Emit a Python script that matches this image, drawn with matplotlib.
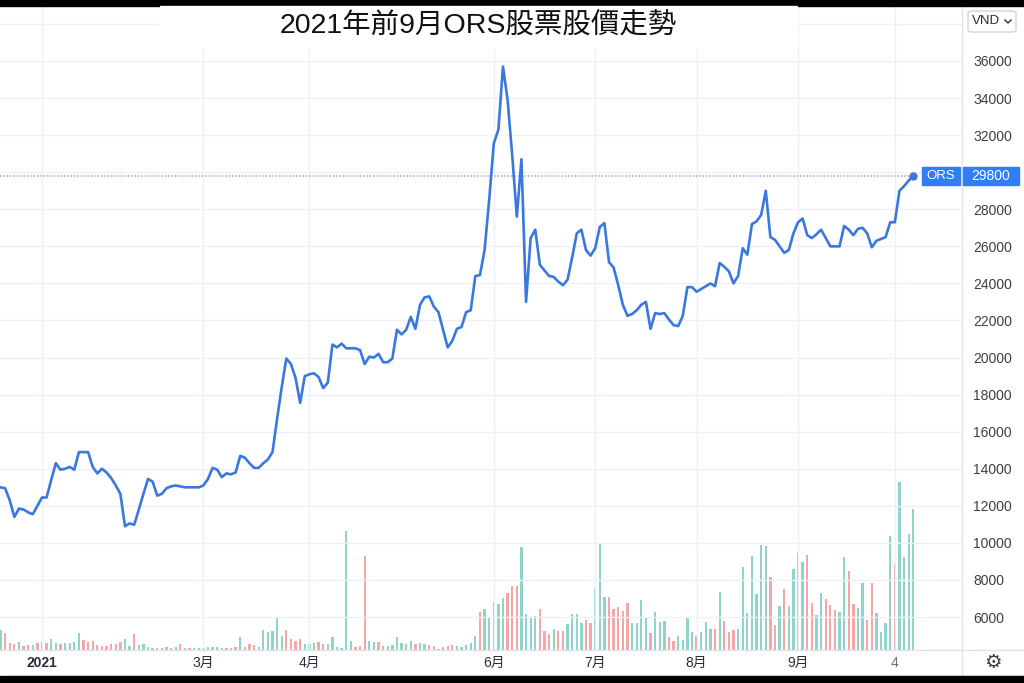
import numpy as np
import matplotlib.pyplot as plt
from matplotlib.patches import Rectangle, FancyBboxPatch
from matplotlib.lines import Line2D

# daily closes (VND), first bar = 2020-12-21, bar 0 = 2021-01-04
close = [13000, 12950, 12300, 11400, 11850, 11800, 11650, 11550, 12000,
         12450, 12450, 13400, 14300, 13950, 14000, 14100, 13950, 14900, 14900,
         14900, 14100, 13750, 14000, 13800, 13500, 13100, 12650, 10900, 11050,
         10980, 11800, 12650, 13450, 13300, 12550, 12650, 12950, 13050, 13100,
         13050, 13000, 13000, 13000, 13000, 13100, 13450, 14050, 13950, 13550,
         13750, 13700, 13800, 14700, 14600, 14300, 14050, 14050, 14300, 14500,
         14900, 16700, 18400, 19950, 19650, 18900, 17550, 19000, 19100, 19150,
         18950, 18350, 18650, 20700, 20550, 20750, 20500, 20500, 20500, 20400,
         19650, 20050, 20000, 20200, 19750, 19750, 19950, 21500, 21250, 21500,
         22200, 21550, 22850, 23250, 23300, 22750, 22450, 21500, 20550, 20900,
         21550, 21650, 22450, 22550, 24400, 24450, 25800, 28500, 31550, 32300,
         35700, 33900, 30900, 27600, 30700, 23000, 26450, 26900, 25000, 24700,
         24400, 24350, 24100, 23900, 24200, 25400, 26700, 26900, 25800, 25500,
         25900, 27050, 27250, 25150, 24850, 23900, 22850, 22250, 22350, 22550,
         22850, 23000, 21550, 22400, 22350, 22400, 22050, 21750, 21700, 22250,
         23800, 23800, 23550, 23700, 23850, 24000, 23850, 25100, 24900, 24650,
         24000, 24400, 25900, 25550, 27200, 27350, 27700, 29000, 26500, 26350,
         26000, 25650, 25800, 26700, 27300, 27500, 26600, 26450, 26650, 26900,
         26450, 26000, 26000, 26000, 27100, 26900, 26600, 26950, 27000, 26700,
         25950, 26300, 26400, 26500, 27300, 27300, 29000, 29250, 29550, 29800]

# volume (thousand shares)
volume = [400, 340, 146, 120, 154, 80, 100, 100, 134,
          166, 134, 220, 146, 120, 146, 134, 166, 346, 200,
          166, 186, 100, 80, 80, 114, 120, 166, 214, 80,
          320, 100, 120, 54, 40, 40, 46, 54, 46, 54,
          114, 46, 34, 40, 40, 46, 54, 54, 60, 46,
          40, 34, 66, 266, 54, 120, 106, 66, 400, 366,
          374, 654, 286, 406, 220, 174, 220, 120, 120, 140,
          154, 120, 120, 266, 66, 40, 2374, 186, 54, 74,
          1874, 186, 154, 154, 86, 86, 100, 266, 140, 120,
          186, 120, 140, 120, 106, 74, 20, 54, 86, 100,
          74, 54, 100, 134, 286, 764, 818, 646, 958, 922,
          1040, 1146, 1290, 1290, 2054, 714, 660, 680, 818, 388,
          320, 424, 388, 388, 528, 714, 714, 542, 610, 542,
          1236, 2124, 1062, 1062, 818, 854, 784, 944, 542, 542,
          992, 666, 334, 764, 556, 576, 264, 174, 278, 194,
          646, 368, 278, 368, 556, 424, 424, 1166, 576, 368,
          402, 416, 1666, 750, 1880, 1118, 2102, 2088, 1464, 492,
          888, 1222, 888, 1630, 1950, 1756, 1908, 944, 694, 1132,
          1028, 902, 798, 764, 1860, 1582, 922, 832, 1340, 610,
          1340, 736, 368, 542, 2276, 1722, 3352, 1860, 2324, 2818]

# 1 = up day (green volume), 0 = down day (red volume)
up = [1, 0, 0, 0, 1, 0, 0, 1, 0,
      1, 0, 1, 1, 0, 1, 1, 1, 1, 0,
      0, 0, 0, 0, 0, 0, 0, 0, 1, 1,
      0, 1, 1, 1, 1, 0, 1, 0, 0, 1,
      0, 1, 0, 1, 1, 1, 1, 0, 1, 1,
      0, 1, 0, 1, 0, 0, 0, 1, 1, 1,
      1, 1, 1, 0, 0, 0, 0, 1, 1, 1,
      0, 0, 1, 1, 1, 1, 1, 1, 0, 0,
      0, 1, 1, 0, 0, 1, 1, 1, 1, 1,
      1, 0, 1, 1, 0, 0, 1, 0, 0, 0,
      1, 1, 1, 1, 1, 0, 1, 1, 1, 1,
      1, 0, 0, 0, 1, 1, 1, 1, 0, 0,
      0, 1, 0, 0, 1, 1, 1, 1, 0, 0,
      1, 1, 1, 0, 0, 0, 0, 0, 1, 1,
      1, 1, 0, 1, 1, 1, 0, 0, 1, 1,
      1, 1, 0, 1, 1, 1, 0, 1, 0, 0,
      0, 1, 1, 1, 1, 1, 1, 1, 0, 0,
      1, 0, 1, 1, 1, 1, 0, 0, 1, 1,
      0, 0, 0, 1, 1, 0, 0, 1, 1, 0,
      0, 1, 1, 1, 1, 0, 1, 1, 1, 1]

first_bar = -9
tick_bars = [0, 35, 58, 98, 120, 142, 164, 185]
tick_labels = ['2021', '3月', '4月', '6月', '7月', '8月', '9月', '4']
price_ticks = list(range(6000, 36001, 2000))
last_price = 29800

W, H = 1024, 683
fig = plt.figure(figsize=(W / 100, H / 100), dpi=100)
fig.patch.set_facecolor('white')

x = np.arange(len(close)) + first_bar
rect = [0, (H - 650) / H, 962 / W, 645 / H]
xlim = (-42 / 4.61, 920 / 4.61)

# volume pane (underneath)
axv = fig.add_axes(rect)
axv.set_xlim(*xlim)
axv.set_ylim(0, 12900)
cols = ['#8fd3cb' if u else '#f6a6a4' for u in up]
axv.bar(x, volume, width=0.5, color=cols, linewidth=0)
axv.axis('off')

# price pane
ax = fig.add_axes(rect)
ax.patch.set_visible(False)
ax.set_xlim(*xlim)
ax.set_ylim(4223, 39021)
for s in ax.spines.values():
    s.set_visible(False)
for p in price_ticks + [38000]:
    ax.axhline(p, color='#eef0f5', lw=1, zorder=0)
for b in tick_bars:
    ax.axvline(b, color='#eef0f5', lw=1, zorder=0)

line_col = '#3a78e0'
ax.plot(x, close, color=line_col, lw=1.9, solid_joinstyle='round', zorder=3)
ax.plot([xlim[0], x[-1]], [last_price, last_price], color='#a3a3d8',
        lw=1.1, ls=(0, (1, 1.2)), zorder=2)
ax.plot(x[-1], close[-1], 'o', ms=5, color=line_col, zorder=4)

ax.yaxis.tick_right()
ax.set_yticks(price_ticks)
# the 30000 label sits under the last-price tag
ax.set_yticklabels(['' if p == 30000 else str(p) for p in price_ticks],
                   family='Liberation Sans')
ax.tick_params(axis='y', length=0, pad=8, labelsize=10, colors='#3b3e48')
ax.set_xticks(tick_bars)
ax.set_xticklabels(tick_labels, family=['Liberation Sans', 'Noto Sans CJK TC'])
ax.tick_params(axis='x', length=0, pad=4, labelsize=10, colors='#2a2e39')
ax.get_xticklabels()[0].set_fontweight('bold')
ax.get_xticklabels()[-1].set_color('#6a6d78')


def fx(px):
    return px / W


def fy(py):
    return 1 - py / H


def add(artist):
    artist.set_transform(fig.transFigure)
    fig.add_artist(artist)


# separators
add(Line2D([fx(962), fx(962)], [fy(5), fy(676)], color='#e0e3eb', lw=1))
add(Line2D([0, 1], [fy(650), fy(650)], color='#e0e3eb', lw=1))

# price tags
blue = '#2f7ef5'
add(Rectangle((fx(922), fy(185)), fx(38), 18 / H, color=blue, zorder=5))
add(Rectangle((fx(963), fy(185)), fx(56), 18 / H, color=blue, zorder=5))
fig.text(fx(941), fy(176), 'ORS', color='white', fontsize=9.5, zorder=6,
         ha='center', va='center', family='Liberation Sans')
fig.text(fx(991), fy(176), str(last_price), color='white', fontsize=10, zorder=6,
         ha='center', va='center', family='Liberation Sans')

# currency box
add(FancyBboxPatch((fx(968), fy(32)), fx(48), 21 / H,
                   boxstyle='round,pad=0,rounding_size=0.004',
                   fc='white', ec='#d1d4dc', lw=1, zorder=5))
fig.text(fx(986), fy(21), 'VND', color='#2a2e39', fontsize=9.5, zorder=6,
         ha='center', va='center', family='Liberation Sans')
add(Line2D([fx(1005), fx(1008), fx(1011)], [fy(20), fy(23), fy(20)],
           color='#2a2e39', lw=1, zorder=6))

# gear icon
fig.text(fx(993), fy(663), '⚙', fontsize=14, color='#3b3e48',
         ha='center', va='center', family='DejaVu Sans')

# frame bands and title box
add(Rectangle((0, fy(6)), 1, 6 / H, color='black', zorder=7))
add(Rectangle((0, 0), 1, 7 / H, color='black', zorder=7))
add(Rectangle((fx(160), fy(48)), fx(637), 42 / H, color='white', zorder=7))
fig.text(fx(478), fy(26), '2021年前9月ORS股票股價走勢', fontsize=20.5,
         ha='center', va='center', color='#111111', zorder=8,
         family=['Liberation Sans', 'Noto Sans CJK TC'])

fig.savefig('out.png', dpi=100, facecolor='white')
